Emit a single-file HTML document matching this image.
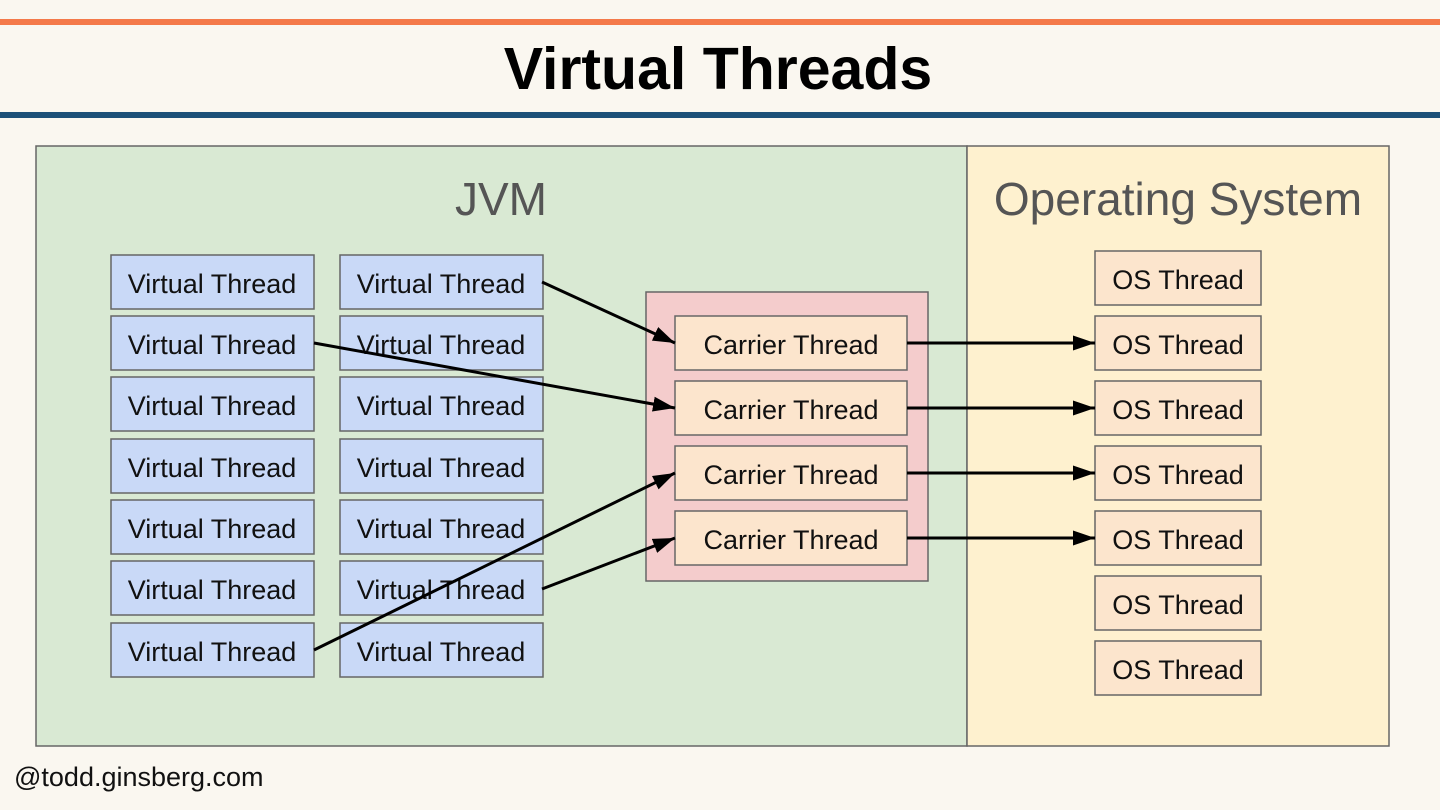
<!DOCTYPE html>
<html><head><meta charset="utf-8"><style>
body{margin:0;background:#faf7f0;}
svg{display:block}
text{font-family:"Liberation Sans",sans-serif}
</style></head><body>
<svg width="1440" height="810" viewBox="0 0 1440 810" xmlns="http://www.w3.org/2000/svg">
<defs>
<marker id="b" markerWidth="22" markerHeight="15" refX="22" refY="7.5" orient="auto" markerUnits="userSpaceOnUse"><path d="M0,0L22,7.5L0,15z" fill="#000"/></marker></defs>
<rect width="1440" height="810" fill="#faf7f0"/>
<rect y="19" width="1440" height="6" fill="#f47a4a"/>
<rect y="112" width="1440" height="6" fill="#1c5078"/>
<text x="718" y="89" text-anchor="middle" font-size="59" font-weight="bold" fill="#000">Virtual Threads</text>
<rect x="36" y="146" width="931" height="600" fill="#d9e9d3" stroke="#666" stroke-width="1.5"/>
<rect x="967" y="146" width="422" height="600" fill="#fef1cf" stroke="#666" stroke-width="1.5"/>
<text x="501" y="215" text-anchor="middle" font-size="46" fill="#555">JVM</text>
<text x="1178" y="215" text-anchor="middle" font-size="46" fill="#555">Operating System</text>
<g stroke="#666" stroke-width="1.5">
<g id="vt">
<rect x="111" y="255" width="203" height="54" fill="#c9d9f7"/>
<rect x="111" y="316" width="203" height="54" fill="#c9d9f7"/>
<rect x="111" y="377" width="203" height="54" fill="#c9d9f7"/>
<rect x="111" y="439" width="203" height="54" fill="#c9d9f7"/>
<rect x="111" y="500" width="203" height="54" fill="#c9d9f7"/>
<rect x="111" y="561" width="203" height="54" fill="#c9d9f7"/>
<rect x="111" y="623" width="203" height="54" fill="#c9d9f7"/>
</g>
<use href="#vt" x="229"/>
</g>
<g font-size="27" fill="#111" text-anchor="middle">
<text x="212" y="293">Virtual Thread</text><text x="441" y="293">Virtual Thread</text>
<text x="212" y="354">Virtual Thread</text><text x="441" y="354">Virtual Thread</text>
<text x="212" y="415">Virtual Thread</text><text x="441" y="415">Virtual Thread</text>
<text x="212" y="477">Virtual Thread</text><text x="441" y="477">Virtual Thread</text>
<text x="212" y="538">Virtual Thread</text><text x="441" y="538">Virtual Thread</text>
<text x="212" y="599">Virtual Thread</text><text x="441" y="599">Virtual Thread</text>
<text x="212" y="661">Virtual Thread</text><text x="441" y="661">Virtual Thread</text>
</g>
<rect x="646" y="292" width="282" height="289" fill="#f4cccc" stroke="#666" stroke-width="1.5"/>
<g stroke="#666" stroke-width="1.5" fill="#fce5cd">
<rect x="675" y="316" width="232" height="54"/><rect x="675" y="381" width="232" height="54"/>
<rect x="675" y="446" width="232" height="54"/><rect x="675" y="511" width="232" height="54"/>
<rect x="1095" y="251" width="166" height="54"/><rect x="1095" y="316" width="166" height="54"/>
<rect x="1095" y="381" width="166" height="54"/><rect x="1095" y="446" width="166" height="54"/>
<rect x="1095" y="511" width="166" height="54"/><rect x="1095" y="576" width="166" height="54"/>
<rect x="1095" y="641" width="166" height="54"/>
</g>
<g font-size="27" fill="#111" text-anchor="middle">
<text x="791" y="354">Carrier Thread</text><text x="791" y="419">Carrier Thread</text>
<text x="791" y="484">Carrier Thread</text><text x="791" y="549">Carrier Thread</text>
<text x="1178" y="289">OS Thread</text><text x="1178" y="354">OS Thread</text>
<text x="1178" y="419">OS Thread</text><text x="1178" y="484">OS Thread</text>
<text x="1178" y="549">OS Thread</text><text x="1178" y="614">OS Thread</text>
<text x="1178" y="679">OS Thread</text>
</g>
<g stroke="#000" stroke-width="3" marker-end="url(#b)">
<line x1="907" y1="343" x2="1095" y2="343"/><line x1="907" y1="408" x2="1095" y2="408"/>
<line x1="907" y1="473" x2="1095" y2="473"/><line x1="907" y1="538" x2="1095" y2="538"/>
<line x1="542" y1="282" x2="675" y2="343"/><line x1="314" y1="343" x2="675" y2="408"/>
<line x1="314" y1="650" x2="675" y2="473"/><line x1="542" y1="589" x2="675" y2="538"/>
</g>
<text x="14" y="786" font-size="27" fill="#111">@todd.ginsberg.com</text>
</svg>
</body></html>
